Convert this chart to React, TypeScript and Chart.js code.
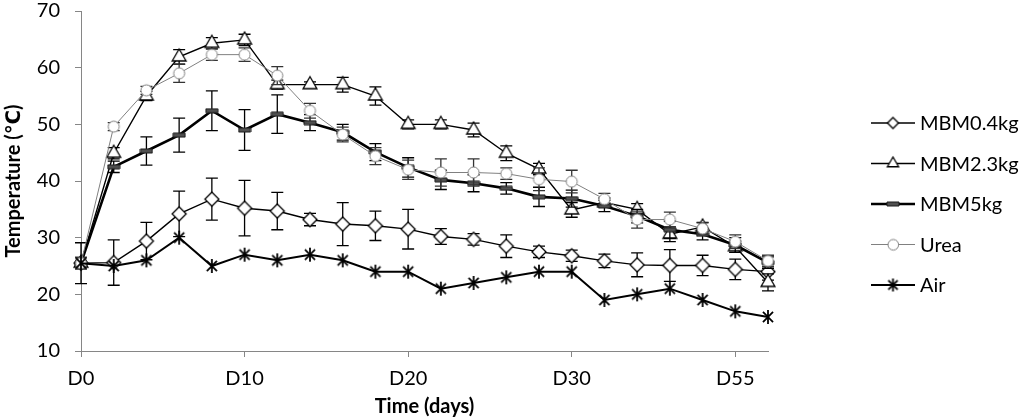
import React, { useEffect, useRef } from 'react';
import Chart from 'chart.js/auto';

// x positions (every 2 days); only some carry a label
const tickLabels = [
  'D0', '', '', '', '', 'D10', '', '', '', '', 'D20', '', '', '', '', 'D30', '', '', '', '', 'D55', '',
];

const mbm04 = [25.5, 25.6, 29.4, 34.2, 36.8, 35.2, 34.7, 33.2, 32.4, 32.1, 31.5, 30.2, 29.7, 28.5, 27.5, 26.8, 25.9, 25.2, 25.1, 25.1, 24.4, 24.0];
const mbm04Err = [3.6, 4.0, 3.3, 4.0, 3.7, 4.9, 3.3, 1.1, 3.8, 2.6, 3.5, 1.4, 1.0, 2.0, 1.0, 1.0, 1.2, 2.1, 2.8, 1.8, 1.8, 1.5];

const mbm23 = [25.5, 44.9, 55.0, 61.9, 64.3, 64.9, 57.0, 57.0, 57.0, 55.0, 50.0, 50.0, 49.0, 44.9, 42.1, 34.9, 36.2, 35.0, 30.6, 31.9, 28.4, 22.1];
const mbm23Err = [0.5, 1.0, 0.8, 1.3, 1.0, 1.0, 0.8, 0.5, 1.3, 1.6, 0.8, 0.8, 1.2, 1.3, 1.0, 1.3, 0.8, 1.0, 1.3, 0.8, 1.0, 1.5];

const mbm5 = [25.5, 42.5, 45.3, 48.1, 52.4, 49.0, 51.8, 50.3, 48.6, 45.1, 42.4, 40.2, 39.6, 38.7, 37.2, 36.9, 35.6, 33.8, 31.4, 30.6, 28.7, 25.6];
const mbm5Err = [1.0, 1.0, 2.5, 3.0, 3.5, 3.6, 3.4, 1.4, 1.4, 1.5, 1.7, 1.7, 1.5, 1.0, 1.7, 1.5, 1.0, 1.2, 1.5, 1.0, 1.3, 1.0];

const urea = [25.5, 49.6, 56.0, 59.0, 62.3, 62.3, 58.6, 52.4, 48.2, 44.4, 42.0, 41.5, 41.5, 41.3, 40.3, 39.9, 36.8, 33.2, 33.2, 31.6, 29.3, 25.9];
const ureaErr = [1.0, 0.7, 0.7, 1.6, 1.0, 1.2, 1.6, 1.3, 1.3, 1.5, 1.7, 2.4, 2.4, 1.0, 2.0, 2.0, 1.0, 1.5, 1.3, 1.0, 1.2, 1.0];

const air = [25.5, 25, 26, 30, 25, 27, 26, 27, 26, 24, 24, 21, 22, 23, 24, 24, 19, 20, 21, 19, 17, 16];

const FONT = 'Lato, "DejaVu Sans", sans-serif';
const AXIS_GREY = '#868686';

type Marker = 'diamond' | 'triangle' | 'dash' | 'circle' | 'asterisk';

// small canvas used as a point style
function makeMarker(kind: Marker, s: number): HTMLCanvasElement {
  const c = document.createElement('canvas');
  const w = kind === 'dash' ? 2 * s + 2 : 2 * s + 4;
  const h = kind === 'dash' ? 6 : 2 * s + 4;
  c.width = w;
  c.height = h;
  const ctx = c.getContext('2d')!;
  const cx = w / 2;
  const cy = h / 2;
  ctx.beginPath();
  if (kind === 'diamond') {
    ctx.moveTo(cx, cy - s);
    ctx.lineTo(cx + s, cy);
    ctx.lineTo(cx, cy + s);
    ctx.lineTo(cx - s, cy);
    ctx.closePath();
    ctx.fillStyle = '#fff';
    ctx.fill();
    ctx.strokeStyle = '#000';
    ctx.lineWidth = 1.3;
    ctx.stroke();
  } else if (kind === 'triangle') {
    ctx.moveTo(cx, cy - s);
    ctx.lineTo(cx + s * 0.866, cy + s * 0.5);
    ctx.lineTo(cx - s * 0.866, cy + s * 0.5);
    ctx.closePath();
    ctx.fillStyle = '#fff';
    ctx.fill();
    ctx.strokeStyle = '#000';
    ctx.lineWidth = 1.3;
    ctx.stroke();
  } else if (kind === 'circle') {
    ctx.arc(cx, cy, s, 0, Math.PI * 2);
    ctx.fillStyle = '#fff';
    ctx.fill();
    ctx.strokeStyle = '#7f7f7f';
    ctx.lineWidth = 1;
    ctx.stroke();
  } else if (kind === 'dash') {
    ctx.rect(1, 1, w - 2, h - 2);
    ctx.fillStyle = '#505050';
    ctx.fill();
    ctx.strokeStyle = '#1a1a1a';
    ctx.lineWidth = 1;
    ctx.stroke();
  } else {
    const d = s * 0.72;
    ctx.moveTo(cx, cy - s);
    ctx.lineTo(cx, cy + s);
    ctx.moveTo(cx - d, cy - d);
    ctx.lineTo(cx + d, cy + d);
    ctx.moveTo(cx + d, cy - d);
    ctx.lineTo(cx - d, cy + d);
    ctx.strokeStyle = '#000';
    ctx.lineWidth = 1.8;
    ctx.stroke();
  }
  return c;
}

// Excel-style error bars, drawn just before each series so its markers sit on top
const errorBars = {
  id: 'errorBars',
  beforeDatasetDraw(chart: any, args: any) {
    const ds = chart.data.datasets[args.index];
    if (!ds.errors) return;
    const { ctx } = chart;
    const y = chart.scales.y;
    ctx.save();
    ctx.strokeStyle = ds.errorColor;
    ctx.lineWidth = 1.3;
    args.meta.data.forEach((pt: any, j: number) => {
      const e = ds.errors[j];
      if (!e) return;
      const v = ds.data[j];
      const top = y.getPixelForValue(v + e);
      const bot = y.getPixelForValue(v - e);
      ctx.beginPath();
      ctx.moveTo(pt.x, top);
      ctx.lineTo(pt.x, bot);
      ctx.moveTo(pt.x - 6, top);
      ctx.lineTo(pt.x + 6, top);
      ctx.moveTo(pt.x - 6, bot);
      ctx.lineTo(pt.x + 6, bot);
      ctx.stroke();
    });
    ctx.restore();
  },
};

// legend on the right: line + marker + name
const sideLegend = {
  id: 'sideLegend',
  afterDraw(chart: any) {
    const { ctx, chartArea } = chart;
    const x0 = chartArea.right + 103;
    const lineW = 44;
    ctx.save();
    chart.data.datasets.forEach((ds: any, i: number) => {
      const yc = 123 + i * 40.5;
      ctx.beginPath();
      ctx.moveTo(x0, yc);
      ctx.lineTo(x0 + lineW, yc);
      ctx.strokeStyle = ds.borderColor;
      ctx.lineWidth = ds.borderWidth;
      ctx.stroke();
      const m: HTMLCanvasElement = ds.legendMarker;
      ctx.drawImage(m, x0 + lineW / 2 - m.width / 2, yc - m.height / 2);
      ctx.fillStyle = '#000';
      ctx.font = `20px ${FONT}`;
      ctx.textBaseline = 'middle';
      ctx.textAlign = 'left';
      ctx.fillText(ds.label, x0 + lineW + 5, yc + 1);
    });
    ctx.restore();
  },
};

const App: React.FC = () => {
  const chartRef = useRef<HTMLCanvasElement>(null);
  const chartInstance = useRef<Chart | null>(null);

  useEffect(() => {
    document.body.style.margin = '0';
    if (!chartRef.current) return;
    if (chartInstance.current) chartInstance.current.destroy();
    const ctx = chartRef.current.getContext('2d');
    if (!ctx) return;

    const series = [
      { label: 'MBM0.4kg', data: mbm04, errors: mbm04Err, color: '#000', width: 1.4, marker: 'diamond' as Marker, size: 7, legendSize: 5.5, errorColor: '#000' },
      { label: 'MBM2.3kg', data: mbm23, errors: mbm23Err, color: '#000', width: 1.4, marker: 'triangle' as Marker, size: 8, legendSize: 6.5, errorColor: '#000' },
      { label: 'MBM5kg', data: mbm5, errors: mbm5Err, color: '#000', width: 2.6, marker: 'dash' as Marker, size: 6, legendSize: 6, errorColor: '#000' },
      { label: 'Urea', data: urea, errors: ureaErr, color: '#808080', width: 1, marker: 'circle' as Marker, size: 5.5, legendSize: 5.3, errorColor: '#333' },
      { label: 'Air', data: air, errors: null, color: '#000', width: 2, marker: 'asterisk' as Marker, size: 7, legendSize: 6.5, errorColor: '#000' },
    ];

    chartInstance.current = new Chart(ctx, {
      type: 'line',
      data: {
        labels: tickLabels,
        datasets: series.map((s, i) => ({
          label: s.label,
          data: s.data,
          errors: s.errors,
          errorColor: s.errorColor,
          legendMarker: makeMarker(s.marker, s.legendSize),
          borderColor: s.color,
          borderWidth: s.width,
          pointStyle: makeMarker(s.marker, s.size),
          pointRadius: s.size,
          tension: 0,
          fill: false,
          order: series.length - i,
        })) as any,
      },
      options: {
        responsive: true,
        maintainAspectRatio: false,
        animation: false,
        events: [],
        layout: { padding: { top: 0, right: 253, bottom: 0, left: 0 } },
        plugins: {
          legend: { display: false },
          tooltip: { enabled: false },
        },
        scales: {
          x: {
            type: 'category',
            offset: false,
            afterFit: (scale: any) => {
              scale.height = 69;
            },
            border: { color: AXIS_GREY, width: 1 },
            grid: {
              display: true,
              drawOnChartArea: false,
              drawTicks: true,
              tickLength: 6,
              color: AXIS_GREY,
            },
            ticks: {
              autoSkip: false,
              maxRotation: 0,
              padding: 10,
              color: '#000',
              font: { family: FONT, size: 20 },
              callback: (_v: any, i: number) => (tickLabels[i] ? tickLabels[i] : null),
            },
            title: {
              display: true,
              text: 'Time (days)',
              color: '#000',
              font: { family: FONT, size: 20, weight: 'bold' },
              padding: { top: 0, bottom: 1 },
            },
          },
          y: {
            min: 10,
            max: 70,
            afterFit: (scale: any) => {
              scale.width = 81;
              scale.paddingTop = 11;
              scale.paddingBottom = 0;
            },
            border: { color: AXIS_GREY, width: 1 },
            grid: {
              display: true,
              drawOnChartArea: false,
              drawTicks: true,
              tickLength: 6,
              color: AXIS_GREY,
            },
            ticks: {
              stepSize: 10,
              padding: 15,
              color: '#000',
              font: { family: FONT, size: 20, lineHeight: 1.1 },
            },
            title: {
              display: true,
              text: 'Temperature (℃)',
              color: '#000',
              font: { family: FONT, size: 20, weight: 'bold' },
              padding: { top: 2, bottom: 0 },
            },
          },
        },
      },
      plugins: [errorBars, sideLegend],
    });

    return () => {
      if (chartInstance.current) {
        chartInstance.current.destroy();
        chartInstance.current = null;
      }
    };
  }, []);

  return (
    <div style={{ position: 'relative', width: 1021, height: 420, background: '#fff' }}>
      <canvas ref={chartRef}></canvas>
    </div>
  );
};

export default App;
